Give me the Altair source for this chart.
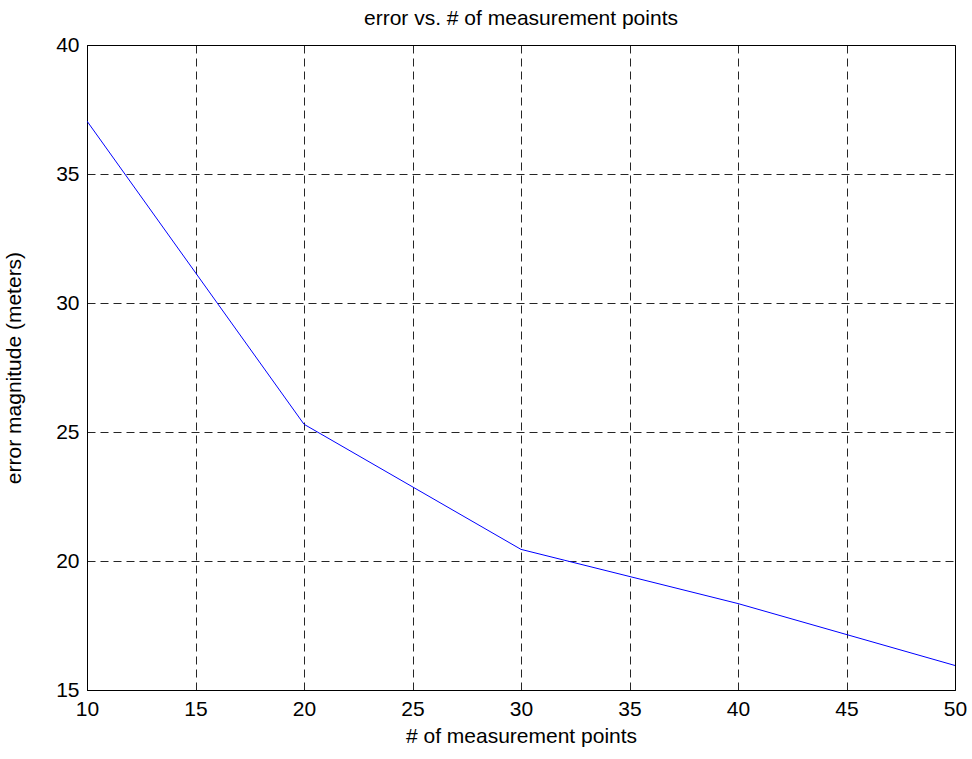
import altair as alt
import pandas as pd

points = [10, 20, 30, 40, 50]
errors = [37.05, 25.3, 20.45, 18.35, 15.95]
x_ticks = [10, 15, 20, 25, 30, 35, 40, 45, 50]
y_ticks = [15, 20, 25, 30, 35, 40]

df = pd.DataFrame({"n": points, "err": errors})

FONT = "Liberation Sans"
FS = 21

line = alt.Chart(df).mark_line(color="#0000ff", strokeWidth=1, clip=True).encode(
    x=alt.X(
        "n:Q",
        scale=alt.Scale(domain=[10, 50], nice=False, zero=False),
        axis=alt.Axis(title="# of measurement points", values=x_ticks, labelPadding=8,
                      labelFlush=False, titlePadding=6),
    ),
    y=alt.Y(
        "err:Q",
        scale=alt.Scale(domain=[15, 40], nice=False, zero=False),
        axis=alt.Axis(title="error magnitude (meters)", values=y_ticks, labelPadding=8,
                      labelFlush=False, titlePadding=31),
    ),
)

chart = (
    line.properties(
        width=868,
        height=645,
        background="white",
        title=alt.TitleParams(
            "error vs. # of measurement points",
            font=FONT,
            fontSize=FS,
            fontWeight="normal",
            color="black",
            anchor="middle",
            offset=5,
        ),
        autosize=alt.AutoSizeParams(type="none"),
        padding={"left": 87, "top": 45, "right": 17, "bottom": 69},
    )
    .configure_view(stroke="black", strokeWidth=1)
    .configure_axis(
        grid=True,
        gridColor="black",
        gridDash=[8, 5],
        gridWidth=1,
        gridOpacity=0.85,
        domainColor="black",
        domainWidth=1,
        ticks=False,
        labelFont=FONT,
        labelFontSize=FS,
        labelColor="black",
        titleFont=FONT,
        titleFontSize=FS,
        titleFontWeight="normal",
        titleColor="black",
    )
)

chart.save("out.html", embed_options={"renderer": "svg", "actions": False})
